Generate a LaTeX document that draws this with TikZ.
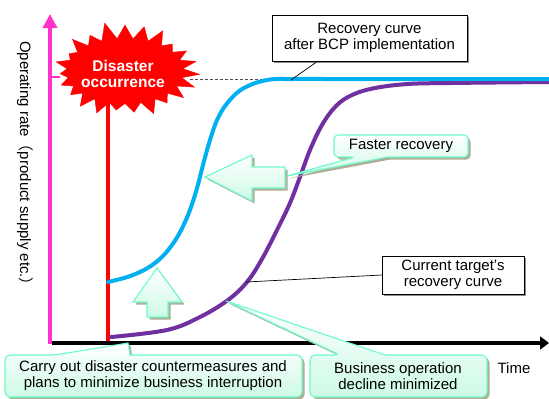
\documentclass[tikz,border=0pt]{standalone}
\usepackage{fontspec}
\setmainfont{Liberation Sans}
\newfontfamily\cjk{Noto Sans CJK JP}
\usetikzlibrary{arrows.meta,shapes.symbols}
\definecolor{pinkc}{RGB}{255,51,204}
\definecolor{bluec}{RGB}{0,176,240}
\definecolor{purplec}{RGB}{112,48,160}
\definecolor{mintc}{RGB}{110,250,205}
\definecolor{mintf}{RGB}{205,250,230}
\definecolor{shadowc}{RGB}{175,175,150}
\tikzset{
  lbl/.style={font=\fontsize{15}{15.8}\selectfont, align=center, inner sep=0pt},
  plainbox/.style={draw=black, fill=white, line width=0.7pt,
     preaction={fill=black!45, transform canvas={shift={(1.5pt,-1.5pt)}}}},
  mintshape/.style={draw=mintc, line width=1.1pt, top color=white, bottom color=mintf,
     preaction={fill=shadowc, transform canvas={shift={(2.5pt,-2.5pt)}}}},
  curve/.style={line width=4pt, line cap=round},
  pointer/.style={draw=black, line width=0.7pt}
}
\begin{document}
\begin{tikzpicture}[x=1pt,y=-1pt]
\useasboundingbox (0,0) rectangle (549,399);
\fill[white] (0,0) rectangle (549,399);

% axes
\draw[pinkc, line width=4pt, -{Triangle[length=14pt,width=14pt]}] (50,344) -- (50,14);
\draw[pinkc, line width=2pt] (48,77) -- (60,77);

% red disaster line
\draw[red, line width=3.5pt] (108,100) -- (108,341);

% dashed level line
\coordinate (dashL) at (190,79);
\coordinate (dashR) at (277,79);
\draw[black!70, line width=0.7pt, dash pattern=on 3pt off 2pt] (dashL) -- (dashR);

% purple current curve
\draw[purplec, curve] plot[smooth, tension=0.6] coordinates {(111,337) (167,330) (200,317) (228,300) (247,282) (262,259) (277,230) (290,203) (300,177) (310,150) (322,125) (336,106) (352,95) (375,88) (408,84) (450,83) (549,82)};
% blue BCP curve
\draw[bluec, curve] plot[smooth, tension=0.65] coordinates {(108,282) (133,275) (155,263) (172,245) (185,222) (195,195) (203,165) (210,140) (218,118) (229,101) (244,88) (267,80) (293,79) (330,79) (549,79)};

\coordinate (bluept) at (291,80);
\coordinate (purplept) at (246,282);
\coordinate (declinept) at (226,301);
\coordinate (countpt) at (128,343);
\coordinate (arrowend) at (287,176);

% x axis
\draw[black, line width=4pt, -{Triangle[length=9pt,width=13pt]}] (52,343) -- (549,343);

% starburst
\node[starburst, starburst points=23, starburst point height=18pt, random starburst=11,
      minimum width=152pt, minimum height=101pt, fill=red, draw=red, inner sep=0pt] (burst) at (125,71) {};
\node[font=\bfseries\fontsize{15.5}{15.5}\selectfont, text=white, align=center, inner sep=0pt] (bursttext) at (123,74) {Disaster\\occurrence};

% big arrows
\path[mintshape] (205,177) -- (252,155) -- (252,167) -- (285,167) -- (285,188) -- (252,188) -- (252,201) -- cycle;
\path[mintshape] (157,268) -- (182,302) -- (168,302) -- (168,317) -- (147,317) -- (147,302) -- (133,302) -- cycle;

% Faster recovery callout
\path[mintshape] (arrowend) -- (388,157) [rounded corners=4pt] -- (468,157) -- (468,135) -- (334,135) -- (334,157) -- (355,157) [sharp corners] -- cycle;
\node[lbl] (faster) at (401,146) {Faster recovery};

% Carry out callout
\path[mintshape] (countpt) -- (130,355) [rounded corners=5pt] -- (302,355) -- (302,397) -- (5,397) -- (5,355) -- (55,355) [sharp corners] -- cycle;
\node[lbl] (carry) at (153,376) {Carry out disaster countermeasures and\\plans to minimize business interruption};

% Business operation callout
\path[mintshape] (declinept) -- (385,355) [rounded corners=5pt] -- (487,355) -- (487,397) -- (310,397) -- (310,355) -- (340,355) [sharp corners] -- cycle;
\node[lbl] (decline) at (398,376) {Business operation\\decline minimized};

% Recovery curve box
\draw[plainbox] (272,15) rectangle (467,61);
\node[lbl] (bcp) at (369.5,38) {Recovery curve\\after BCP implementation};
\draw[pointer] (318,61) -- (bluept);

% Current target box
\draw[plainbox] (382,256) rectangle (524,294);
\node[lbl] (current) at (453,275) {Current target’s\\recovery curve};
\draw[pointer] (382,275) -- (purplept);

% labels
\node[lbl] (time) at (514,368) {Time};
\node[lbl, rotate=-90] (ylabel) at (25,167) {Operating rate{\cjk （}product supply etc.{\cjk ）}};
\end{tikzpicture}
\end{document}
